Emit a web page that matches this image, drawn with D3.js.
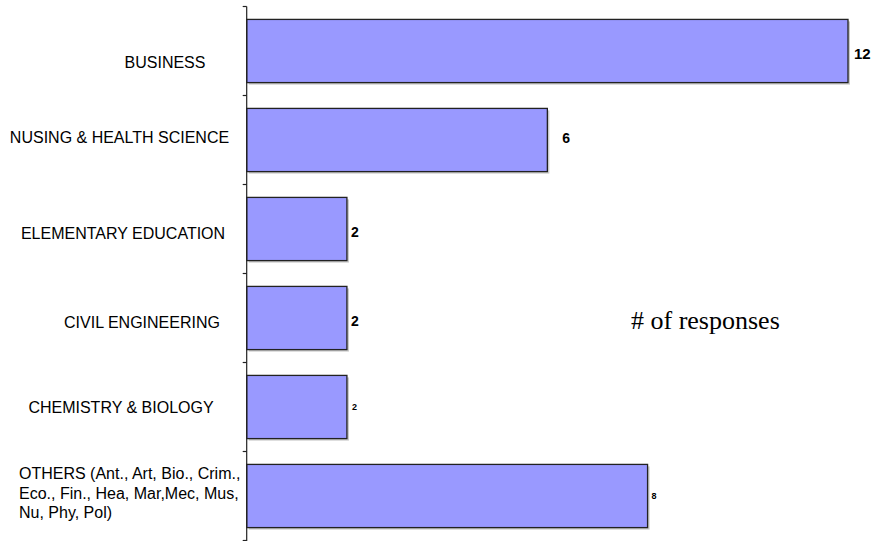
<!DOCTYPE html>
<html>
<head>
<meta charset="utf-8">
<script src="https://cdn.jsdelivr.net/npm/d3@7"></script>
<style>
  html, body { margin: 0; padding: 0; background: #fff; }
  svg { display: block; }
</style>
</head>
<body>
<svg id="chart" width="877" height="541"></svg>
<script>
// ---- data ----
const categories = [
  "BUSINESS",
  "NUSING & HEALTH SCIENCE",
  "ELEMENTARY EDUCATION",
  "CIVIL ENGINEERING",
  "CHEMISTRY & BIOLOGY",
  "OTHERS (Ant., Art, Bio., Crim.,|Eco., Fin., Hea, Mar,Mec, Mus,|Nu, Phy, Pol)"
];
const responses = [12, 6, 2, 2, 2, 8];
const valueLabels = ["12", "6", "2", "2", "2", "8"];
const axisTitle = "# of responses";

// ---- layout / style (not data) ----
const labelCenterX = [165, 119.5, 123, 142, 121, null];
const labelDy = [11, -3, 4, 4, 0, -3];
const valueFont = [15, 14, 14, 14, 9, 9];
const valueGap = [6, 15, 4, 4, 5, 4];
const valueDy = [3, -2, 3, 3, 0, 0];

const svg = d3.select("#chart");

const x = d3.scaleLinear().domain([0, 12]).range([246.7, 848]);
const y = d3.scaleBand()
  .domain(categories)
  .range([6.5, 540.5])
  .paddingInner(0.29)
  .paddingOuter(0.145);

// shadows
svg.append("g").selectAll("rect")
  .data(categories)
  .join("rect")
  .attr("x", x(0) + 2)
  .attr("y", d => y(d) + 2)
  .attr("width", (d, i) => x(responses[i]) - x(0))
  .attr("height", y.bandwidth())
  .attr("fill", "#c8c8c8");

// bars
svg.append("g").selectAll("rect")
  .data(categories)
  .join("rect")
  .attr("x", x(0))
  .attr("y", d => y(d))
  .attr("width", (d, i) => x(responses[i]) - x(0))
  .attr("height", y.bandwidth())
  .attr("fill", "#9999FF")
  .attr("stroke", "#222")
  .attr("stroke-width", 1.3);

// axis line + ticks at band boundaries
const axisG = svg.append("g").attr("stroke", "#222").attr("stroke-width", 1.2);
axisG.append("line")
  .attr("x1", x(0)).attr("x2", x(0))
  .attr("y1", y.range()[0]).attr("y2", y.range()[1] + 2);
const bounds = d3.range(categories.length + 1).map(i => y.range()[0] + i * y.step());
axisG.selectAll("line.tick")
  .data(bounds)
  .join("line")
  .attr("class", "tick")
  .attr("x1", x(0) - 4).attr("x2", x(0))
  .attr("y1", d => d).attr("y2", d => d);

// category labels
const catG = svg.append("g")
  .attr("font-family", "'Liberation Sans', Arial, sans-serif")
  .attr("font-size", 16)
  .attr("fill", "#000");
categories.forEach((c, i) => {
  const cy = y(c) + y.bandwidth() / 2 + labelDy[i];
  const lines = c.split("|");
  if (lines.length === 1) {
    catG.append("text")
      .attr("x", labelCenterX[i])
      .attr("y", cy)
      .attr("dy", "0.36em")
      .attr("text-anchor", "middle")
      .text(c);
  } else {
    const lh = 19.5;
    const t = catG.append("text").attr("text-anchor", "start");
    lines.forEach((ln, j) => {
      t.append("tspan")
        .attr("x", 19)
        .attr("y", cy + (j - (lines.length - 1) / 2) * lh)
        .attr("dy", "0.36em")
        .text(ln);
    });
  }
});

// value labels
svg.append("g")
  .attr("font-family", "'Liberation Sans', Arial, sans-serif")
  .attr("font-weight", "bold")
  .attr("fill", "#000")
  .selectAll("text")
  .data(categories)
  .join("text")
  .attr("x", (d, i) => x(responses[i]) + valueGap[i])
  .attr("y", (d, i) => y(d) + y.bandwidth() / 2 + valueDy[i])
  .attr("dy", "0.36em")
  .attr("font-size", (d, i) => valueFont[i])
  .text((d, i) => valueLabels[i]);

// axis title
svg.append("text")
  .attr("x", 631)
  .attr("y", 329)
  .attr("font-family", "'Liberation Serif', 'Times New Roman', serif")
  .attr("font-size", 26)
  .attr("fill", "#000")
  .text(axisTitle);
</script>
</body>
</html>
